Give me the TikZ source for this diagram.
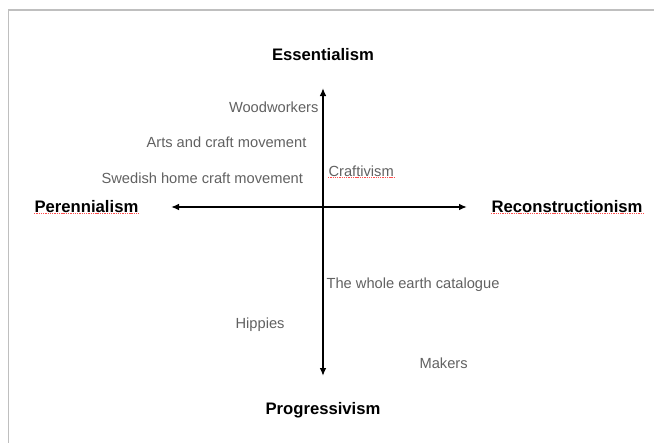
\documentclass[tikz,border=0pt]{standalone}
\usepackage{fontspec}
\setmainfont{Liberation Sans}
\usetikzlibrary{arrows.meta}

\tikzset{
  axis/.style={line width=1.3pt, {Latex[length=6pt,width=5pt]}-{Latex[length=6pt,width=5pt]}},
  pole/.style={font=\fontsize{12.5}{14}\selectfont\bfseries, inner sep=1pt},
  item/.style={font=\fontsize{11}{13}\selectfont, text=black!62, inner sep=1pt},
  spell/.style={red!70, line width=0.5pt, dash pattern=on 1pt off 0.7pt}
}

\begin{document}
\begin{tikzpicture}[x=0.75pt, y=-0.75pt]
      \useasboundingbox (0,0) rectangle (654,443);
      \draw[black!25, line width=1.2pt] (8.5,443) -- (8.5,10) -- (654,10);

      \node[pole] (E) at (323,55) {Essentialism};
      \node[pole] (P) at (323,410) {Progressivism};
      \node[pole, anchor=west] (Pe) at (33,207) {Perennialism};
      \node[pole, anchor=west] (R) at (490,207) {Reconstructionism};

      \coordinate (top) at (323,88);
      \coordinate (bot) at (323,376);
      \coordinate (lft) at (171,207);
      \coordinate (rgt) at (467,207);

      \draw[axis] (top) -- (bot);
      \draw[axis] (lft) -- (rgt);

      \node[item, anchor=east] (W) at (320,107) {Woodworkers};
      \node[item, anchor=west] (A) at (145,142) {Arts and craft movement};
      \node[item, anchor=west] (S) at (100,178) {Swedish home craft movement};
      \node[item, anchor=west] (C) at (327,171) {Craftivism};
      \node[item, anchor=west] (T) at (325,285) {The whole earth catalogue};
      \node[item, anchor=west] (H) at (234,325) {Hippies};
      \node[item, anchor=west] (M) at (418,363) {Makers};

      \draw[spell] ([shift={(1,-1)}]Pe.south west) -- ([shift={(-1,-1)}]Pe.south east)
                   ([shift={(1,-1)}]R.south west) -- ([shift={(-1,-1)}]R.south east)
                   ([shift={(1,-1)}]C.south west) -- ([shift={(-1,-1)}]C.south east);
\end{tikzpicture}
\end{document}
